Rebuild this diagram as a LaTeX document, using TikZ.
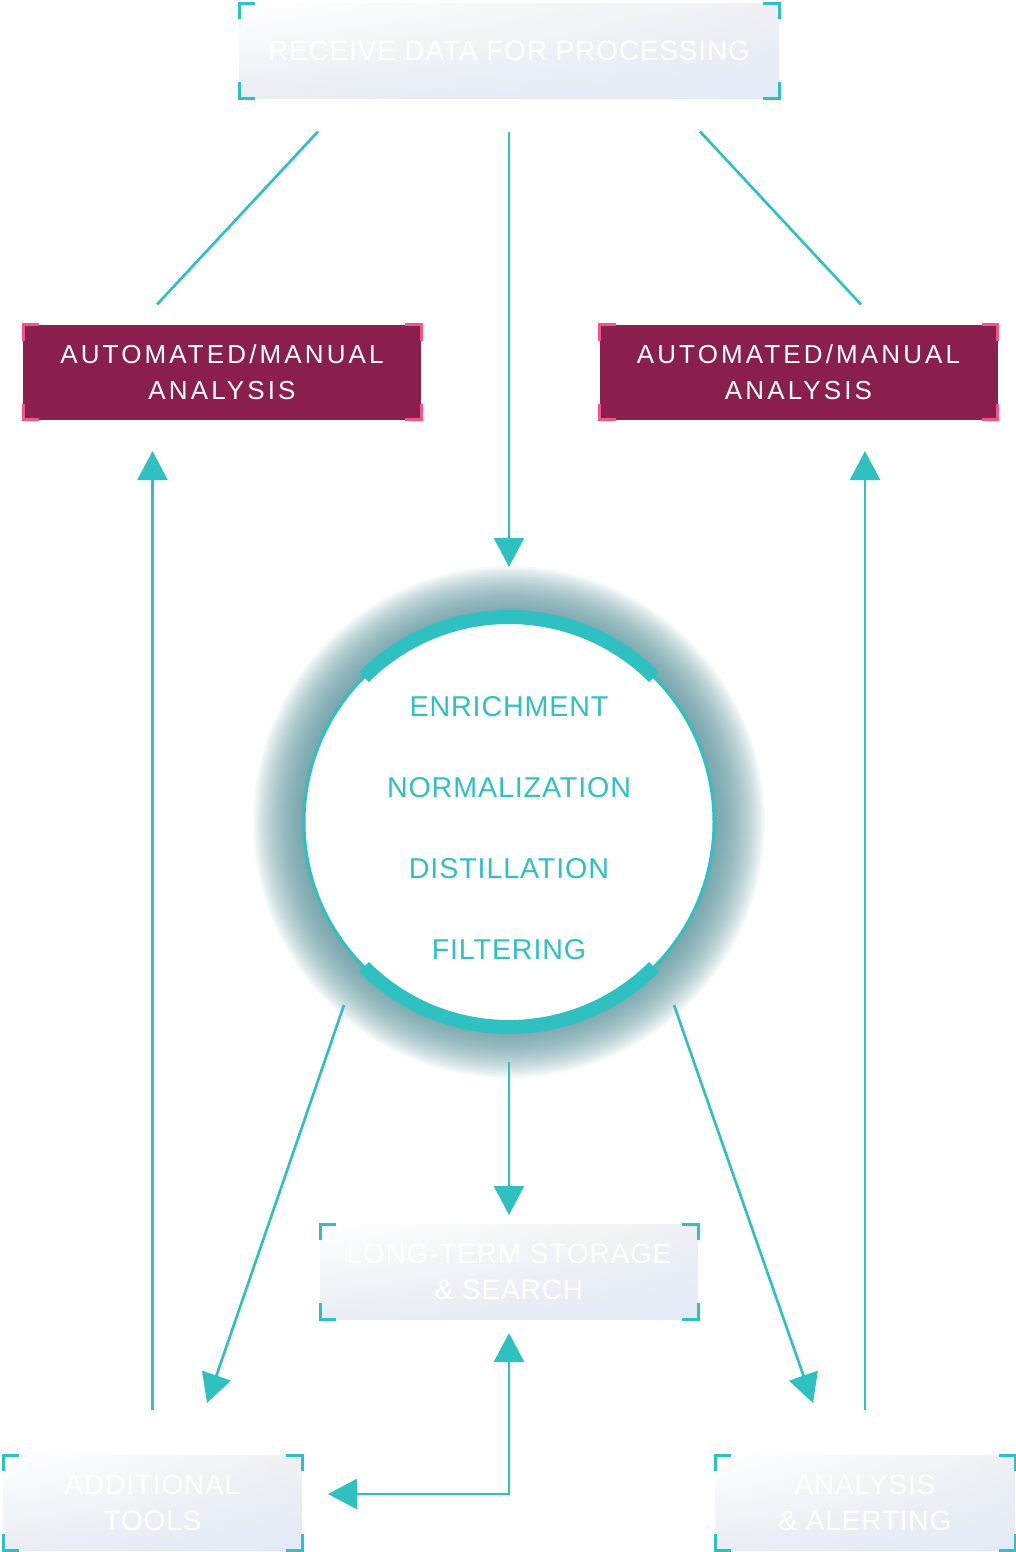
\documentclass[tikz,border=0pt]{standalone}
\usepackage{fontspec}
\setmainfont{Liberation Sans}
\newfontfamily\trackfont[LetterSpace=3]{Liberation Sans}
\newfontfamily\widetrackfont[LetterSpace=12]{Liberation Sans}
\usetikzlibrary{arrows.meta,calc,shadings}
\definecolor{hubteal}{RGB}{47,193,193}
\definecolor{wine}{RGB}{138,31,77}
\definecolor{rose}{RGB}{242,86,134}
\definecolor{glowgrey}{RGB}{80,140,148}
\definecolor{dataUR}{RGB}{238,240,243}
\definecolor{dataLL}{RGB}{233,237,243}
\definecolor{dataLR}{RGB}{226,234,246}
\tikzset{
  font={\trackfont\fontsize{21pt}{27pt}\selectfont}}

\begin{document}
\begin{tikzpicture}[x=0.75pt,y=0.75pt,
    block_data/.style ={rectangle, draw=none, upper left=white, upper right=dataUR,
      lower left=dataLL, lower right=dataLR, text=white, align=center,
      minimum height=71.25pt, inner sep=0pt, outer sep=0pt},
    block_analysis/.style ={rectangle, draw=none, fill=wine, text=white, align=center,
      font={\widetrackfont\fontsize{19.5pt}{27pt}\selectfont},
      minimum width=298.5pt, minimum height=71.25pt, inner sep=0pt, outer sep=0pt},
    block_hub/.style ={circle, draw=hubteal, line width=2.25pt, fill=white,
      minimum size=307.5pt, inner sep=0pt, outer sep=0pt},
    block_steps/.style ={text=hubteal, align=center,
      font={\trackfont\fontsize{21.5pt}{60.75pt}\selectfont}},
    hub_band/.style ={draw=hubteal, line width=10.5pt},
    corner_mark/.style ={line width=2.25pt, line join=miter},
    paths_plain/.style ={draw=hubteal, line width=2pt},
    paths2/.style ={draw=hubteal, line width=2pt,
      arrows={-Triangle[length=21.75pt, width=22.5pt, hubteal]}}]
    \useasboundingbox (0,0) rectangle (1016,-1552);
    % boxes
    \node[block_data, minimum width=405pt] (recv) at (509,-51) {RECEIVE DATA FOR PROCESSING};
    \node[block_analysis] (amL) at (222,-372) {AUTOMATED/MANUAL\\ANALYSIS};
    \node[block_analysis] (amR) at (798.5,-372) {AUTOMATED/MANUAL\\ANALYSIS};
    \node[block_data, minimum width=283.5pt] (store) at (509,-1271.5) {LONG-TERM STORAGE\\\& SEARCH};
    \node[block_data, minimum width=224.25pt] (tools) at (152.5,-1502.5) {ADDITIONAL\\TOOLS};
    \node[block_data, minimum width=225pt] (alert) at (865,-1502.5) {ANALYSIS\\\& ALERTING};
    % corner marks
    \foreach \n/\c in {recv/hubteal, store/hubteal, tools/hubteal, alert/hubteal, amL/rose, amR/rose} {
      \draw[corner_mark, draw=\c] ([yshift=-12pt]\n.north west) |- ([xshift=12pt]\n.north west);
      \draw[corner_mark, draw=\c] ([xshift=-12pt]\n.north east) -| ([yshift=-12pt]\n.north east);
      \draw[corner_mark, draw=\c] ([yshift=12pt]\n.south west) |- ([xshift=12pt]\n.south west);
      \draw[corner_mark, draw=\c] ([xshift=-12pt]\n.south east) -| ([yshift=12pt]\n.south east);
    }
    % processing hub with its glow
    \coordinate (hub) at (509,-822);
    \foreach \r in {206,208,...,256}
      \fill[glowgrey, opacity=0.055] (hub) circle (\r);
    \node[block_hub] (circ) at (hub) {};
    \node[block_steps] (steps) at ($(hub)+(0,-6)$) {ENRICHMENT\\NORMALIZATION\\DISTILLATION\\FILTERING};
    \draw[hub_band] ([shift={(135:205)}]hub) arc[start angle=135, end angle=45, radius=205];
    \draw[hub_band] ([shift={(225:205)}]hub) arc[start angle=225, end angle=315, radius=205];
    % connecting nodes with paths
    \path[paths_plain] ($(recv.south)+(-191,-33)$) -- ($(amL.north)+(-65,20)$);
    \path[paths_plain] ($(recv.south)+(191,-33)$) -- ($(amR.north)+(62.5,20)$);
    \path[paths2] ($(recv.south)+(0,-33)$) -- ($(circ.north)+(0,50)$);
    \path[paths2] ($(tools.north)+(0,45)$) -- ($(tools.north |- amL.south)+(0,-31.5)$);
    \path[paths2] ($(alert.north)+(0,45)$) -- ($(alert.north |- amR.south)+(0,-31.5)$);
    \path[paths2] ($(hub)+(-165,-183)$) -- ($(tools.north)+(54.5,52)$);
    \path[paths2] ($(hub)+(165,-183)$) -- ($(alert.north)+(-52,52)$);
    \path[paths2] ($(circ.south)+(0,-35)$) -- ($(store.north)+(0,9)$);
    \path[paths2, arrows={Triangle[length=21.75pt, width=22.5pt, hubteal]-Triangle[length=21.75pt, width=22.5pt, hubteal]}]
      ($(store.south)+(0,-14)$) |- ($(tools.east)+(26,8.5)$);
  \end{tikzpicture}
\end{document}
